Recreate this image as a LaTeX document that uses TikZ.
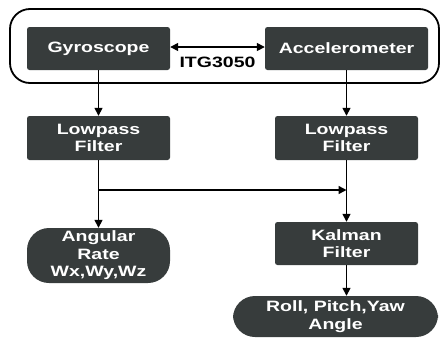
\documentclass[tikz,border=0pt]{standalone}
\usepackage{fontspec}
\setmainfont{Liberation Sans}[FakeStretch=1.3]
\usetikzlibrary{arrows.meta}
\definecolor{boxfill}{RGB}{55,60,60}
\begin{document}
\begin{tikzpicture}[x=1pt,y=-1pt,
  blk/.style={draw=none,fill=boxfill,text=white,font=\fontsize{15}{17.5}\selectfont\bfseries,align=center,rounded corners=2.5pt,inner sep=0pt},
  pill/.style={blk,rounded corners=22pt},
  conn/.style={line width=1.5pt,-{Triangle[length=8pt,width=8pt]}}
]
\useasboundingbox (0,0) rectangle (441,338);
\node[draw,line width=1.8pt,rounded corners=20pt,minimum width=429pt,minimum height=74pt,inner sep=0pt] (sensor) at (224.5,46) {};
\node[blk,minimum width=143pt,minimum height=43pt] (gyro) at (98.5,48.5) {Gyroscope};
\node[blk,minimum width=163pt,minimum height=43pt] (accel) at (346.5,48.5) {Accelerometer};
\node[font=\fontsize{15}{17.5}\selectfont\bfseries,inner sep=0pt] (itg) at (217.5,62) {ITG3050};
\node[blk,minimum width=143pt,minimum height=44pt] (lp1) at (98.5,138) {Lowpass\\Filter};
\node[blk,minimum width=143pt,minimum height=44pt] (lp2) at (346.5,138) {Lowpass\\Filter};
\node[pill,minimum width=143pt,minimum height=55pt] (ang) at (98.5,255.5) {Angular\\Rate\\Wx,Wy,Wz};
\node[blk,minimum width=143pt,minimum height=43pt] (kal) at (346.5,243.5) {Kalman\\Filter};
\node[pill,minimum width=205pt,minimum height=41pt] (roll) at (335.5,316.5) {Roll, Pitch,Yaw\\Angle};
\coordinate (j) at (98.5,190);
\draw[line width=1.5pt,{Triangle[length=8pt,width=8pt]}-{Triangle[length=8pt,width=8pt]}] ([yshift=1.5pt]gyro.east) -- ([yshift=1.5pt]accel.west);
\draw[conn] (gyro.south) -- (lp1.north);
\draw[conn] (accel.south) -- (lp2.north);
\draw[conn] (lp1.south) -- (ang.north);
\draw[conn] (lp2.south) -- (kal.north);
\draw[conn] (j) -- (lp2.south |- j);
\draw[conn] (kal.south) -- (kal.south |- roll.north);
\end{tikzpicture}
\end{document}
